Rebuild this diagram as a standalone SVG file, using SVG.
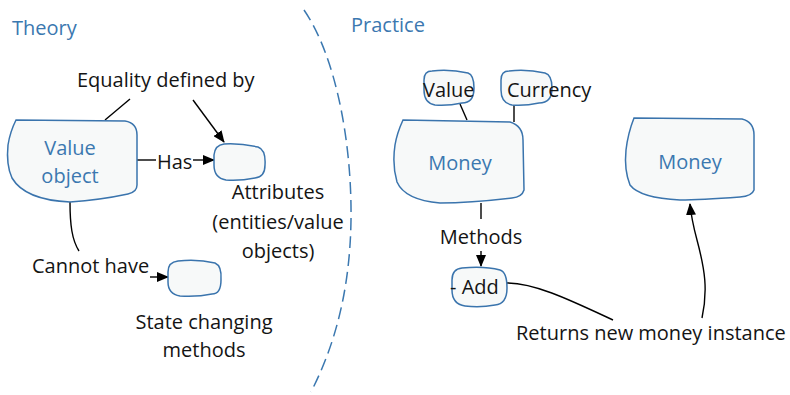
<svg xmlns="http://www.w3.org/2000/svg" width="790" height="395" viewBox="0 0 790 395">
<defs>
<marker id="ah" markerWidth="12" markerHeight="10" refX="11" refY="5" orient="auto" markerUnits="userSpaceOnUse">
<path d="M0,0 L12,5 L0,10 Z" fill="#000"/>
</marker>
<style>
.t{font-family:"Open Sans","Liberation Sans",sans-serif;font-size:20px;fill:#141414}
.b{font-family:"Open Sans","Liberation Sans",sans-serif;font-size:20px;fill:#3b78b0}
.box{fill:#f7f9f9;stroke:#3a74ad;stroke-width:1.5}
.c{fill:none;stroke:#000;stroke-width:1.4}
.m{text-anchor:middle}
</style>
</defs>
<rect width="790" height="395" fill="#fff"/>
<g id="divider">
<path d="M304,10 C335,55 352,140 351,220 C350,290 335,345 311,392" fill="none" stroke="#3b78b0" stroke-width="1.5" stroke-dasharray="12 6"/>
</g>
<text class="b" x="12" y="35">Theory</text>
<text class="b" x="351" y="32">Practice</text>
<g id="connectors">
<path class="c" d="M130,99 L105,120"/>
<path class="c" d="M193,100 L224,142" marker-end="url(#ah)"/>
<path class="c" d="M137,160 L156,160"/>
<path class="c" d="M193,160 L214,160" marker-end="url(#ah)"/>
<path class="c" d="M70,202 C70,225 72,240 79,251"/>
<path class="c" d="M150,277 L168,277" marker-end="url(#ah)"/>
<path class="c" d="M460,104 L467,120"/>
<path class="c" d="M514,105 L514,122"/>
<path class="c" d="M481,203 L481,219"/>
<path class="c" d="M481,251 L481,266" marker-end="url(#ah)"/>
<path class="c" d="M507,283 C535,283 570,300 613,320"/>
<path class="c" d="M702,318 C708,290 705,270 697,240 C693,225 691,215 690,204" marker-end="url(#ah)"/>
</g>
<g id="value-object">
<path class="box" d="M16,120 L125,121 Q137,123 137,135 L137,185 Q137,192 128,194 Q100,200 70,202 Q25,200 12,178 Q6,165 8,145 Q10,132 16,120 Z"/>
<text class="b m" x="70" y="155">Value</text>
<text class="b m" x="70" y="183">object</text>
</g>
<g id="equality">
<text class="t" x="77" y="87">Equality defined by</text>
</g>
<g id="has">
<text class="t" x="157" y="169">Has</text>
</g>
<g id="attributes">
<path class="box" d="M224,144 Q240,143 258,147 Q266,150 265,165 Q265,177 255,178 Q240,181 226,180 Q214,178 214,165 L214,155 Q215,145 224,144 Z"/>
<text class="t m" x="278" y="199">Attributes</text>
<text class="t m" x="278" y="229">(entities/value</text>
<text class="t m" x="278" y="258">objects)</text>
</g>
<g id="cannot-have">
<text class="t" x="32" y="273">Cannot have</text>
</g>
<g id="state-changing">
<path class="box" d="M178,261 Q198,259 215,263 Q222,266 221,280 Q221,294 212,294 Q198,297 180,296 Q168,294 168,282 L168,272 Q168,262 178,261 Z"/>
<text class="t m" x="204" y="329">State changing</text>
<text class="t m" x="204" y="357">methods</text>
</g>
<g id="value">
<path class="box" d="M432,71 Q450,69 468,73 Q474,75 474,88 Q474,103 462,103 Q448,106 435,105 Q424,103 424,90 L424,80 Q424,71 432,71 Z"/>
<text class="t" x="423" y="97">Value</text>
</g>
<g id="currency">
<path class="box" d="M509,71 Q527,69 545,73 Q552,75 552,88 Q552,103 539,103 Q525,106 512,105 Q501,103 501,90 L501,80 Q501,71 509,71 Z"/>
<text class="t" x="507" y="97">Currency</text>
</g>
<g id="money">
<path class="box" d="M403,120 L510,122 Q523,126 523,140 L524,190 Q522,197 512,198 Q470,203 440,203 Q405,200 397,182 Q392,165 395,145 Q397,133 403,120 Z"/>
<text class="b m" x="460" y="170">Money</text>
</g>
<g id="methods">
<text class="t m" x="481" y="244">Methods</text>
</g>
<g id="add">
<path class="box" d="M462,268 Q485,266 500,270 Q507,272 507,288 Q507,304 495,305 Q480,308 465,306 Q452,304 452,290 L452,280 Q452,269 462,268 Z"/>
<text class="t" x="450" y="294">- Add</text>
</g>
<g id="returns">
<text class="t" x="516" y="340">Returns new money instance</text>
</g>
<g id="money-new">
<path class="box" d="M634,118 L742,119 Q754,122 754,135 L754,190 Q752,196 740,197 Q700,200 680,200 Q640,198 630,185 Q624,170 626,150 Q628,133 634,118 Z"/>
<text class="b m" x="690" y="169">Money</text>
</g>
</svg>
